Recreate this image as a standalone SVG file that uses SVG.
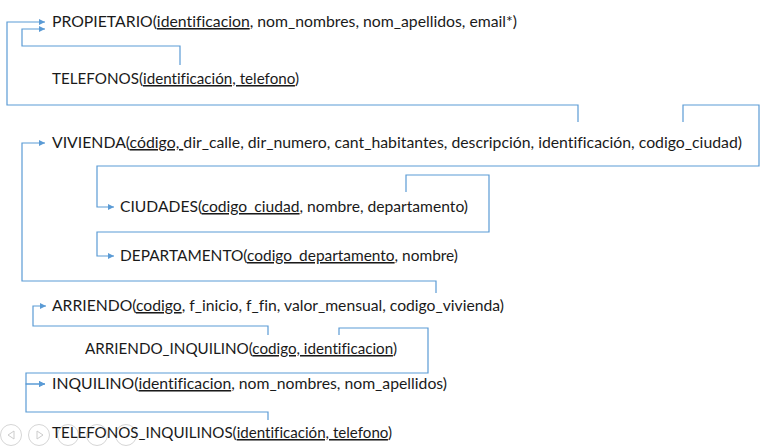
<svg xmlns="http://www.w3.org/2000/svg" width="767" height="447" viewBox="0 0 767 447">
<style>
.t{font-family:Lato,"Open Sans","Liberation Sans",sans-serif;font-size:15.3px;fill:#1a1a1a;font-variant-ligatures:none;font-feature-settings:"liga" 0}
.u{text-decoration:underline}
.c{fill:none;stroke:#5b9bd5;stroke-width:1.2}
.nav{fill:none;stroke:#d6d6d6;stroke-width:1}
.navi{fill:none;stroke:#cccccc;stroke-width:1}
</style>
<defs>
<marker id="ah" markerUnits="userSpaceOnUse" markerWidth="8" markerHeight="8" refX="6" refY="3" orient="auto">
<path d="M0,0 L6,3 L0,6 z" fill="#5b9bd5"/>
</marker>
</defs>
<rect width="767" height="447" fill="#ffffff"/>
<g id="nav">
<circle class="nav" cx="11" cy="435" r="10.5"/>
<path class="navi" d="M14,431 L8,435 L14,439 z"/>
<circle class="nav" cx="39" cy="435" r="10.5"/>
<path class="navi" d="M37,431 L43,435 L37,439 z"/>
<circle class="nav" cx="68" cy="435" r="10.5"/>
<circle class="nav" cx="97" cy="435" r="10.5"/>
<circle class="nav" cx="126" cy="435" r="10.5"/>
</g>
<g id="connectors">
<path class="c" marker-end="url(#ah)" d="M180,65 V46 H22 V29 H45"/>
<path class="c" marker-end="url(#ah)" d="M578,122 V105 H7 V22 H45"/>
<path class="c" marker-end="url(#ah)" d="M436,293 V281 H22 V143 H45"/>
<path class="c" marker-end="url(#ah)" d="M683,122 V105 H759 V166 H97 V207 H114"/>
<path class="c" marker-end="url(#ah)" d="M406,192 V175 H489 V232 H97 V256 H114"/>
<path class="c" marker-end="url(#ah)" d="M268,335 V326 H33 V306 H46"/>
<path class="c" marker-end="url(#ah)" d="M339,335 V328 H428 V373 H26 V384 H45"/>
<path class="c" marker-end="url(#ah)" d="M268,420 V412 H26 V384 H45"/>
</g>
<g id="propietario"><text class="t" x="52" y="27" textLength="465" lengthAdjust="spacingAndGlyphs">PROPIETARIO(<tspan class="u">identificacion</tspan>, nom_nombres, nom_apellidos, email*)</text></g>
<g id="telefonos"><text class="t" x="52" y="84" textLength="247" lengthAdjust="spacingAndGlyphs">TELEFONOS(<tspan class="u">identificación, telefono</tspan>)</text></g>
<g id="vivienda"><text class="t" x="52" y="148" textLength="690" lengthAdjust="spacingAndGlyphs">VIVIENDA(<tspan class="u">código, </tspan>dir_calle, dir_numero, cant_habitantes, descripción, identificación, codigo_ciudad)</text></g>
<g id="ciudades"><text class="t" x="120" y="212" textLength="348" lengthAdjust="spacingAndGlyphs">CIUDADES(<tspan class="u">codigo_ciudad</tspan>, nombre, departamento)</text></g>
<g id="departamento"><text class="t" x="120" y="261" textLength="338" lengthAdjust="spacingAndGlyphs">DEPARTAMENTO(<tspan class="u">codigo_departamento</tspan>, nombre)</text></g>
<g id="arriendo"><text class="t" x="52" y="311" textLength="452" lengthAdjust="spacingAndGlyphs">ARRIENDO(<tspan class="u">codigo</tspan>, f_inicio, f_fin, valor_mensual, codigo_vivienda)</text></g>
<g id="arriendo_inquilino"><text class="t" x="85" y="354" textLength="312" lengthAdjust="spacingAndGlyphs">ARRIENDO_INQUILINO(<tspan class="u">codigo, identificacion</tspan>)</text></g>
<g id="inquilino"><text class="t" x="52" y="389" textLength="395" lengthAdjust="spacingAndGlyphs">INQUILINO(<tspan class="u">identificacion</tspan>, nom_nombres, nom_apellidos)</text></g>
<g id="telefonos_inquilinos"><text class="t" x="52" y="438" textLength="340" lengthAdjust="spacingAndGlyphs">TELEFONOS_INQUILINOS(<tspan class="u">identificación, telefono</tspan>)</text></g>
</svg>
